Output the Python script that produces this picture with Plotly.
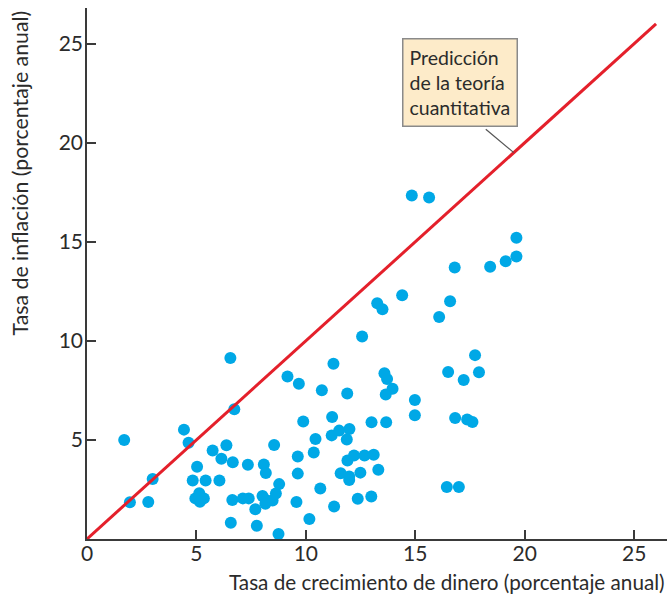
import plotly.graph_objects as go

# Money growth rate (x) and inflation rate (y), percent per year
money_growth = [1.7, 1.96, 2.8, 3.0, 4.43, 4.64, 5.03, 4.83, 5.42, 4.95, 5.13, 5.34, 5.16,
                5.74, 6.14, 6.05, 6.37, 6.55, 6.66, 6.73, 6.64, 6.57, 7.12, 7.39, 7.35, 7.69,
                7.76, 8.08, 8.17, 8.02, 8.2, 8.15, 8.48, 8.63, 8.78, 8.55, 8.75, 9.16, 9.68,
                9.88, 9.57, 9.63, 9.63, 10.16, 10.44, 10.36, 10.73, 10.66, 14.84, 15.63, 19.62,
                19.62, 19.13, 18.42, 16.8, 14.4, 13.26, 13.5, 16.59, 16.09, 12.57, 11.26, 11.89,
                13.59, 13.71, 13.96, 13.65, 14.98, 14.98, 16.5, 17.73, 17.21, 17.91, 16.82, 17.37,
                17.61, 16.44, 16.99, 11.2, 13.0, 13.67, 11.18, 11.52, 11.99, 11.87, 11.9, 12.2,
                12.68, 13.1, 13.31, 12.49, 11.59, 11.98, 11.98, 11.29, 12.37, 12.99]
inflation = [5.0, 1.85, 1.87, 3.03, 5.52, 4.86, 3.65, 2.95, 2.95, 2.05, 2.31, 2.05, 1.88,
             4.47, 4.05, 2.95, 4.73, 9.14, 3.87, 6.55, 1.97, 0.82, 2.05, 2.05, 3.75, 1.5,
             0.67, 3.76, 3.33, 2.17, 1.95, 1.78, 1.94, 2.3, 2.77, 4.75, 0.25, 8.2, 7.83,
             5.93, 1.87, 4.16, 3.3, 1.01, 5.05, 4.36, 7.51, 2.55, 17.34, 17.24, 15.2,
             14.26, 14.02, 13.74, 13.7, 12.3, 11.9, 11.6, 12.0, 11.2, 10.22, 8.84, 7.34,
             8.37, 8.07, 7.58, 7.29, 7.02, 6.25, 8.43, 9.28, 8.03, 8.42, 6.11, 6.03,
             5.91, 2.63, 2.63, 6.16, 5.89, 5.89, 5.23, 5.47, 5.55, 5.02, 3.96, 4.21,
             4.21, 4.25, 3.5, 3.35, 3.32, 3.15, 2.98, 1.64, 2.03, 2.14]

# Quantity-theory prediction: inflation = money growth
theory_x = [0, 26]
theory_y = [0, 26]

tick_vals = [0, 5, 10, 15, 20, 25]
y_tick_vals = [5, 10, 15, 20, 25]

x_title = "Tasa de crecimiento de dinero (porcentaje anual)"
y_title = "Tasa de inflación (porcentaje anual)"
note_text = "Predicción<br>de la teoría<br>cuantitativa"
note_point = 19.5

FONT = "Lato"
TXT = "#2b2b2b"
AX = "#3a3a3a"

fig = go.Figure()
fig.add_trace(go.Scatter(x=money_growth, y=inflation, mode="markers",
                         marker=dict(color="#00a8e6", size=12, line=dict(width=0)),
                         hoverinfo="x+y", showlegend=False))
fig.add_trace(go.Scatter(x=theory_x, y=theory_y, mode="lines",
                         line=dict(color="#e4202b", width=3),
                         hoverinfo="skip", showlegend=False))

# connector from the note box to the line
fig.add_shape(type="line", xref="x", yref="y",
              x0=note_point, y0=note_point, x1=note_point - 1.28, y1=note_point + 1.18,
              line=dict(color="#555555", width=1.2))

fig.add_annotation(x=note_point - 2.47, y=note_point + 1.27, xref="x", yref="y",
                   text=note_text, showarrow=False, align="left",
                   xanchor="center", yanchor="bottom",
                   font=dict(family=FONT, size=19.5, color=TXT),
                   bgcolor="#fdebc9", bordercolor="#8a8a8a", borderwidth=1.5, borderpad=6)

fig.add_annotation(x=1, y=0, xref="paper", yref="paper", xanchor="right", yanchor="top",
                   yshift=-29, text=x_title, showarrow=False,
                   font=dict(family=FONT, size=20.7, color=TXT))
fig.add_annotation(x=0, y=1, xref="paper", yref="paper", xanchor="right", yanchor="top",
                   xshift=-53, yshift=-1, text=y_title, showarrow=False, textangle=-90,
                   font=dict(family=FONT, size=21.3, color=TXT))

fig.update_layout(
    width=668, height=597,
    margin=dict(l=87, r=1, t=8, b=58),
    paper_bgcolor="white", plot_bgcolor="white",
    font=dict(family=FONT, color=TXT),
    xaxis=dict(range=[0, 26.5], tickvals=tick_vals, ticks="inside", ticklen=9,
               tickwidth=1.5, tickcolor=AX, showline=True, linecolor=AX, linewidth=1.5,
               showgrid=False, zeroline=False, tickfont=dict(family=FONT, size=21, color=TXT),
               ticklabelstandoff=-5),
    yaxis=dict(range=[0, 26.8], tickvals=y_tick_vals, ticks="inside", ticklen=9,
               tickwidth=1.5, tickcolor=AX, showline=True, linecolor=AX, linewidth=1.5,
               showgrid=False, zeroline=False, tickfont=dict(family=FONT, size=21, color=TXT),
               ticklabelstandoff=-2),
)

page_reset = ("document.body.style.margin='0';"
              "document.documentElement.style.overflow='hidden';")
fig.write_html("out.html", post_script=page_reset, config={"displayModeBar": False})
